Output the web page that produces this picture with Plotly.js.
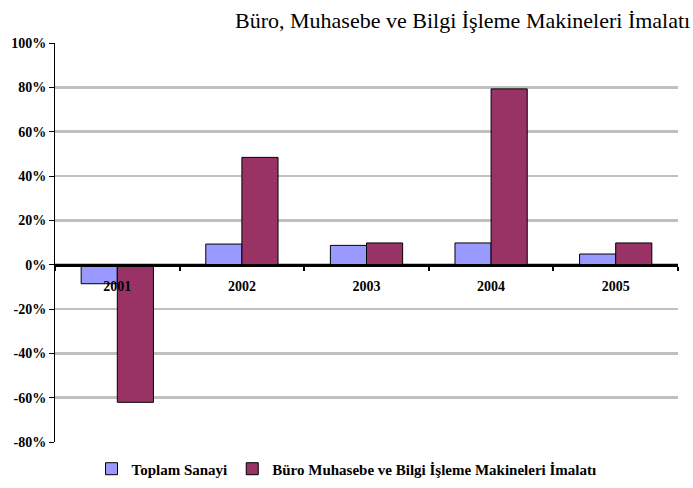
<!DOCTYPE html>
<html>
<head>
<meta charset="utf-8">
<script src="https://cdn.plot.ly/plotly-3.0.1.min.js"></script>
<style>html,body{margin:0;padding:0;background:#fff;}#chart{width:693px;height:488px;}</style>
</head>
<body>
<div id="chart"></div>
<script>
var years = ["2001", "2002", "2003", "2004", "2005"];
var toplamSanayi = [-8.6, 9.3, 8.7, 9.8, 4.8];
var buroMakineleri = [-62.1, 48.4, 9.8, 79.3, 9.8];
var seriesNames = ["Toplam Sanayi", "Büro Muhasebe ve Bilgi İşleme Makineleri İmalatı"];
var chartTitle = "Büro, Muhasebe ve Bilgi İşleme Makineleri İmalatı";
var yTickValues = [-80, -60, -40, -20, 0, 20, 40, 60, 80, 100];
var yTickLabels = ["-80%", "-60%", "-40%", "-20%", "0%", "20%", "40%", "60%", "80%", "100%"];

var serif = "Liberation Serif, Times New Roman, serif";
var yMin = -80, yMax = 100;

var data = [
  {type: "bar", name: seriesNames[0], x: years, y: toplamSanayi,
   marker: {color: "#9999FF", line: {color: "#000000", width: 1}}},
  {type: "bar", name: seriesNames[1], x: years, y: buroMakineleri,
   marker: {color: "#993366", line: {color: "#000000", width: 1}}}
];

var layout = {
  width: 693, height: 488,
  margin: {l: 55, r: 15, t: 43, b: 46, autoexpand: false},
  paper_bgcolor: "#ffffff", plot_bgcolor: "#ffffff",
  barmode: "group", bargap: 0.42, bargroupgap: 0,
  title: {text: chartTitle, font: {family: serif, size: 22, color: "#000"},
          xref: "container", x: 0.996, xanchor: "right", yref: "container", y: 0.958, yanchor: "middle",
          automargin: false},
  xaxis: {type: "category", anchor: "free", position: (0 - yMin) / (yMax - yMin),
          showline: true, linecolor: "#000", linewidth: 3,
          ticks: "outside", tickson: "boundaries", ticklen: 4, tickwidth: 2, tickcolor: "#000",
          ticklabelstandoff: 8, automargin: false,
          showgrid: false, zeroline: false,
          tickfont: {family: serif, size: 14, color: "#000", weight: "bold"}},
  yaxis: {range: [yMin, yMax], tickmode: "array", tickvals: yTickValues, ticktext: yTickLabels,
          automargin: false,
          showline: true, linecolor: "#000", linewidth: 1,
          ticks: "outside", ticklen: 5, tickcolor: "#000",
          showgrid: true, gridcolor: "#C0C0C0", gridwidth: 2.5,
          zeroline: false,
          tickfont: {family: serif, size: 14, color: "#000", weight: "bold"}},
  showlegend: true,
  legend: {orientation: "h", x: 0.5, xref: "container", xanchor: "center",
           y: 0.039, yref: "container", yanchor: "middle", itemwidth: 30, tracegroupgap: 0,
           font: {family: serif, size: 15, color: "#000", weight: "bold"}, traceorder: "normal"}
};

Plotly.newPlot("chart", data, layout, {displayModeBar: false, staticPlot: true});
</script>
</body>
</html>
